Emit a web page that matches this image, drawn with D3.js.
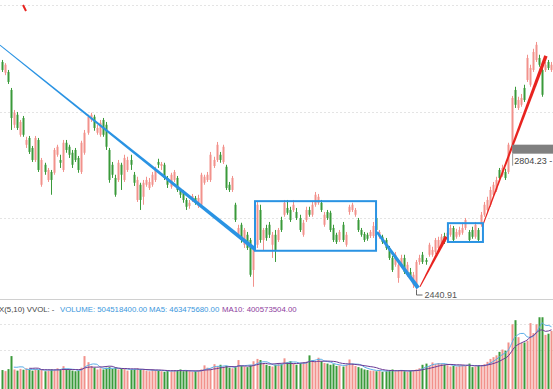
<!DOCTYPE html>
<html>
<head>
<meta charset="utf-8">
<script src="https://cdn.jsdelivr.net/npm/d3@7"></script>
<style>
  html, body { margin: 0; padding: 0; background: #fff; }
  svg { display: block; font-family: "Liberation Sans", Arial, sans-serif; }
</style>
</head>
<body>
<svg id="chart" width="553" height="389"></svg>
<script>
// daily candles
const opens = [3011,2984,2986,2941,2854,2879,2829,2871,2804,2821,2796,2766,2816,2704,2754,2716,2736,2734,2779,2766,
  2741,2809,2799,2784,2791,2771,2736,2784,2834,2866,2874,2834,2829,2866,2854,2791,2754,2721,2716,2754,
  2716,2741,2766,2729,2666,2704,2674,2704,2696,2704,2716,2761,2751,2754,2721,2699,2716,2721,2691,2686,
  2666,2651,2666,2671,2651,2654,2709,2716,2716,2751,2766,2779,2761,2749,2704,2691,2654,2579,2604,2554,
  2579,2566,2491,2554,2641,2566,2596,2604,2554,2579,2566,2616,2629,2646,2641,2641,2636,2621,2579,2616,
  2641,2629,2654,2659,2659,2604,2636,2634,2596,2579,2566,2604,2554,2636,2641,2629,2616,2591,2581,2579,
  2576,2576,2621,2574,2574,2566,2546,2521,2504,2471,2504,2521,2479,2486,2454,2454,2511,2529,2516,2529,
  2529,2536,2546,2554,2576,2566,2579,2596,2574,2579,2584,2596,2586,2591,2574,2591,2604,2629,2641,2654,
  2679,2691,2741,2729,2736,2736,2804,2941,2896,2904,2946,2966,2954,2991,3016,3021,2991,2991,3011,2991];
const closes = [2991,3004,2961,2871,2884,2846,2861,2829,2816,2786,2766,2821,2741,2766,2736,2741,2716,2791,2799,2759,
  2809,2791,2779,2754,2766,2741,2809,2834,2874,2879,2846,2846,2859,2829,2799,2716,2729,2679,2759,2729,
  2771,2766,2754,2709,2716,2666,2709,2716,2711,2729,2741,2754,2756,2721,2704,2729,2736,2691,2679,2666,
  2649,2659,2676,2659,2671,2729,2724,2729,2779,2766,2804,2766,2799,2696,2691,2721,2616,2596,2566,2591,
  2546,2479,2541,2654,2566,2591,2571,2579,2579,2541,2591,2591,2659,2634,2616,2654,2621,2591,2609,2641,
  2629,2654,2679,2674,2641,2629,2621,2591,2566,2561,2586,2566,2579,2649,2654,2641,2591,2579,2566,2569,
  2586,2601,2591,2586,2561,2546,2521,2491,2529,2504,2521,2486,2504,2471,2479,2511,2521,2511,2511,2554,
  2541,2566,2566,2574,2561,2584,2596,2566,2586,2591,2596,2616,2566,2574,2604,2566,2629,2654,2666,2691,
  2704,2716,2721,2746,2721,2804.23,2921,2904,2916,2921,2916,3021,2996,3036,3054,3004,2929,3004,2996,3004];
const highs = [3016,3008,2991,2946,2891,2886,2866,2876,2824,2826,2801,2826,2821,2771,2759,2746,2741,2796,2804,2779,
  2816,2816,2804,2791,2796,2776,2814,2841,2879,2884,2879,2854,2866,2871,2861,2796,2761,2729,2766,2759,
  2779,2774,2779,2736,2724,2709,2716,2724,2721,2736,2749,2769,2761,2759,2726,2734,2741,2726,2696,2691,
  2671,2666,2681,2676,2679,2734,2729,2736,2786,2774,2811,2786,2804,2754,2711,2726,2659,2604,2609,2596,
  2586,2571,2546,2661,2654,2596,2604,2611,2586,2591,2596,2624,2666,2666,2649,2666,2646,2629,2616,2649,
  2649,2661,2686,2681,2666,2636,2641,2639,2604,2584,2591,2611,2586,2654,2659,2646,2621,2596,2586,2584,
  2591,2611,2626,2591,2579,2571,2551,2526,2536,2511,2529,2529,2511,2496,2486,2516,2529,2536,2521,2559,
  2549,2571,2574,2581,2584,2591,2604,2601,2594,2599,2609,2621,2591,2599,2611,2596,2636,2661,2674,2699,
  2711,2724,2746,2754,2744,2809,2926,2949,2924,2931,2954,3029,3004,3044,3061,3029,2999,3011,3016,3011];
const lows = [2986,2978,2956,2841,2846,2841,2824,2824,2796,2781,2761,2761,2736,2699,2729,2711,2679,2729,2774,2746,
  2736,2784,2771,2746,2761,2734,2731,2779,2829,2861,2839,2829,2824,2824,2791,2709,2721,2674,2711,2691,
  2711,2736,2741,2701,2661,2641,2654,2699,2691,2699,2711,2746,2741,2716,2696,2694,2711,2686,2671,2659,
  2641,2644,2661,2654,2646,2649,2704,2711,2711,2746,2761,2759,2756,2691,2686,2686,2611,2571,2559,2546,
  2541,2474,2449,2546,2559,2541,2564,2571,2521,2511,2561,2586,2624,2629,2611,2636,2616,2586,2574,2611,
  2624,2624,2649,2654,2636,2599,2616,2586,2561,2556,2561,2561,2549,2629,2636,2624,2586,2574,2561,2564,
  2571,2571,2586,2569,2556,2541,2516,2486,2499,2459,2496,2481,2474,2466,2446,2440.91,2504,2506,2504,2524,
  2524,2531,2541,2549,2556,2561,2574,2561,2569,2574,2579,2591,2561,2569,2569,2561,2599,2624,2636,2649,
  2674,2686,2716,2724,2716,2731,2799,2896,2891,2899,2911,2961,2949,2986,3011,2999,2924,2986,2991,2986];
// volume, millions
const volumes = [170,161,178,289,175,165,180,173,185,175,165,180,170,175,160,165,175,170,185,170,
  203,175,170,165,160,165,190,289,237,205,190,175,185,175,190,195,180,190,175,180,
  185,165,170,175,185,175,170,165,160,175,170,165,160,155,165,160,170,165,175,160,
  165,160,155,160,165,175,210,190,185,220,200,215,195,205,190,185,195,255,205,200,
  195,210,245,265,255,225,215,205,200,215,225,220,270,235,245,225,215,225,235,240,
  295,255,240,275,245,230,225,215,220,205,210,200,215,260,225,205,195,185,175,170,
  165,165,160,170,155,160,165,175,160,165,170,160,155,165,170,175,185,215,225,205,
  235,220,230,225,215,210,200,205,200,210,215,205,225,195,200,210,205,220,240,265,
  280,295,325,345,335,405,560,595,450,400,405,420,570,485,560,620,620,470,480,504.5];

const priceGrid = [2621, 2886, 3153];
const volumeGrid = [341, 562];

// drawn annotations: [candle index, price]
const trendLines = [
  {from: [-0.5, 3053], to: [82.5, 2543], w0: 0.8, w1: 4, color: '#2a93e3'},
  {from: [122.2, 2586], to: [135.6, 2446], w0: 2.5, w1: 4, color: '#2a93e3'},
  {from: [136.2, 2449], to: [144.7, 2574], w0: 1, w1: 3.5, color: '#e8231f'},
  {from: [156.7, 2604], to: [177.2, 3026], w0: 1, w1: 3.5, color: '#e8231f'}
];
const boxes = [
  {x0: 82.5, x1: 121.9, top: 2663, bottom: 2539},
  {x0: 145.3, x1: 156.7, top: 2608, bottom: 2561}
];
const lowIndex = 135;
const rangeText = '2804.23 - 2961.28';
const volumeLegend = [
  {text: 'X(5,10) VVOL: -', color: '#444', x: -1},
  {text: 'VOLUME: 504518400.00', color: '#3b97dd', x: 60},
  {text: 'MA5: 463475680.00', color: '#3b97dd', x: 149},
  {text: 'MA10: 400573504.00', color: '#8e3d9e', x: 222}
];

const width = 553, height = 389;
const up = '#f2928c', down = '#3a9a3a';
const svg = d3.select('#chart');

const x = d3.scaleLinear().domain([-0.5, 179.5]).range([0, width]);
const y = d3.scaleLinear().domain([2440.91, 3165.91]).range([290, 0]);
const yv = d3.scaleLinear().domain([0, 750]).range([390, 302]);
const bw = 2;

// grid
svg.append('g').selectAll('line').data(priceGrid).enter().append('line')
  .attr('x1', 0).attr('x2', width)
  .attr('y1', d => Math.round(y(d)) + 0.5).attr('y2', d => Math.round(y(d)) + 0.5)
  .attr('stroke', '#e4e4e4').attr('stroke-dasharray', '2,2');
svg.append('g').selectAll('line').data(volumeGrid).enter().append('line')
  .attr('x1', 0).attr('x2', width)
  .attr('y1', d => Math.round(yv(d)) + 0.5).attr('y2', d => Math.round(yv(d)) + 0.5)
  .attr('stroke', '#e4e4e4').attr('stroke-dasharray', '2,2');

svg.append('line').attr('x1', 0).attr('x2', width).attr('y1', 299.5).attr('y2', 299.5)
  .attr('stroke', '#d0d0d0');

// candles
const candles = opens.map((o, i) => ({i, o, c: closes[i], h: highs[i], l: lows[i], v: volumes[i]}));
const cg = svg.append('g');
cg.selectAll('line.wick').data(candles).enter().append('line')
  .attr('class', 'wick')
  .attr('x1', d => Math.round(x(d.i)) + 0.5).attr('x2', d => Math.round(x(d.i)) + 0.5)
  .attr('y1', d => y(d.h)).attr('y2', d => y(d.l))
  .attr('stroke', d => d.c >= d.o ? up : down).attr('stroke-width', 1);
cg.selectAll('rect.body').data(candles).enter().append('rect')
  .attr('class', 'body')
  .attr('x', d => Math.round(x(d.i)) - bw / 2 + 0.5)
  .attr('y', d => y(Math.max(d.o, d.c)))
  .attr('width', bw)
  .attr('height', d => Math.max(1, Math.abs(y(d.o) - y(d.c))))
  .attr('fill', d => d.c >= d.o ? up : down);

// volume bars
svg.append('g').selectAll('rect').data(candles).enter().append('rect')
  .attr('x', d => Math.round(x(d.i)) - bw / 2 + 0.5)
  .attr('y', d => yv(d.v))
  .attr('width', bw)
  .attr('height', d => yv(0) - yv(d.v))
  .attr('fill', d => d.c >= d.o ? up : down);

// volume moving averages
const ma = n => candles.map((d, i) => i < n - 1 ? null : {i, v: d3.mean(volumes.slice(i - n + 1, i + 1))}).filter(d => d);
const maLine = d3.line().x(d => x(d.i)).y(d => yv(d.v)).curve(d3.curveMonotoneX);
svg.append('path').datum(ma(5)).attr('d', maLine)
  .attr('fill', 'none').attr('stroke', '#5aaee8').attr('stroke-width', 1);
svg.append('path').datum(ma(10)).attr('d', maLine)
  .attr('fill', 'none').attr('stroke', '#6a3a96').attr('stroke-width', 1);

// legend text of the volume pane
svg.append('g').selectAll('text').data(volumeLegend).enter().append('text')
  .attr('x', d => d.x).attr('y', 312)
  .attr('font-size', 7.8).attr('fill', d => d.color)
  .text(d => d.text);

// tapered trend lines
const taper = (d) => {
  const x0 = x(d.from[0]), y0 = y(d.from[1]), x1 = x(d.to[0]), y1 = y(d.to[1]);
  const len = Math.hypot(x1 - x0, y1 - y0);
  const nx = -(y1 - y0) / len, ny = (x1 - x0) / len;
  return [[x0 + nx * d.w0 / 2, y0 + ny * d.w0 / 2], [x1 + nx * d.w1 / 2, y1 + ny * d.w1 / 2],
          [x1 - nx * d.w1 / 2, y1 - ny * d.w1 / 2], [x0 - nx * d.w0 / 2, y0 - ny * d.w0 / 2]]
    .map(p => p.join(',')).join(' ');
};
svg.append('g').selectAll('polygon').data(trendLines).enter().append('polygon')
  .attr('points', taper).attr('fill', d => d.color);

svg.append('g').selectAll('rect').data(boxes).enter().append('rect')
  .attr('x', d => x(d.x0)).attr('y', d => y(d.top))
  .attr('width', d => x(d.x1) - x(d.x0)).attr('height', d => y(d.bottom) - y(d.top))
  .attr('fill', 'none').attr('stroke', '#2a93e3').attr('stroke-width', 2);

// lowest point marker
const lx = Math.round(x(lowIndex)) + 0.5, ly = y(lows[lowIndex]);
svg.append('path').attr('d', `M${lx},${ly} V${ly + 5} H${lx + 6}`)
  .attr('fill', 'none').attr('stroke', '#666');
svg.append('text').attr('x', lx + 8).attr('y', ly + 8)
  .attr('font-size', 9).attr('fill', '#555').text(lows[lowIndex].toFixed(2));

// range tag at the right edge
const gx = x(166.2), gy = y(2804.23);
svg.append('rect').attr('x', gx).attr('y', gy).attr('width', width - gx).attr('height', 9).attr('fill', '#808080');
svg.append('line').attr('x1', gx + 0.5).attr('x2', gx + 0.5).attr('y1', gy + 9).attr('y2', gy + 21).attr('stroke', '#999');
svg.append('text').attr('x', gx + 2).attr('y', gy + 19).attr('font-size', 9).attr('fill', '#444').text(rangeText);

// small red mark top left
svg.append('line').attr('x1', 23).attr('y1', 5).attr('x2', 26).attr('y2', 11)
  .attr('stroke', '#e8231f').attr('stroke-width', 2);
</script>
</body>
</html>
